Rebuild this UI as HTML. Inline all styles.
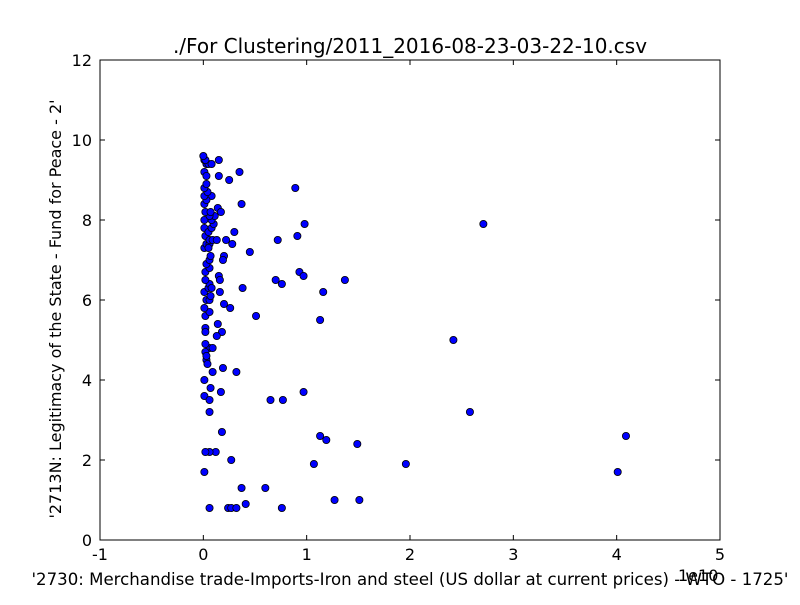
<!DOCTYPE html>
<html><head><meta charset="utf-8"><style>
body{margin:0;background:#fff;width:800px;height:600px;overflow:hidden}
text{font-family:"DejaVu Sans","Liberation Sans",sans-serif;fill:#000}
</style></head><body>
<svg id="chart" width="800" height="600" xmlns="http://www.w3.org/2000/svg">
<rect width="800" height="600" fill="#fff"/>
<g id="points"></g>
<rect x="100" y="60" width="620" height="480" fill="none" stroke="#000" stroke-width="1"/>
<g id="axes"></g>
<text x="410" y="53" font-size="20" text-anchor="middle">./For Clustering/2011_2016-08-23-03-22-10.csv</text>
<text x="410" y="585" font-size="16.6" text-anchor="middle">'2730: Merchandise trade-Imports-Iron and steel (US dollar at current prices) - WTO - 1725'</text>
<text x="678" y="581" font-size="16">1e10</text>
<text transform="translate(61,309) rotate(-90)" font-size="16" text-anchor="middle">'2713N: Legitimacy of the State - Fund for Peace - 2'</text>
</svg>
<script>
const xTicks=[-1,0,1,2,3,4,5];
const yTicks=[0,2,4,6,8,10,12];
const xs=[2.71,2.42,2.58,4.09,4.01,1.96,1.49,1.51,1.27,1.07,1.13,1.19,0.97,1.37,1.16,1.13,0.98,0.91,0.89,0.93,0.97,0.70,0.76,0.72,0.65,0.77,0.60,0.76,0.37,0.41,0.24,0.27,0.32,0.06,0.51,0.38,0.45,0.37,0.35,0.25,0.30,0.28,0.22,0.20,0.19,0.26,0.20,0.18,0.14,0.13,0.32,0.19,0.17,0.18,0.27,0.12,0.06,0.02,0.01,0.01,0.06,0.06,0.07,0.01,0.09,0.06,0.09,0.02,0.03,0.04,0.03,0.02,0.02,0.02,0.02,0.06,0.01,0.03,0.06,0.01,0.05,0.07,0.06,0.02,0.16,0.15,0.16,0.08,0.02,0.06,0.03,0.06,0.07,0.01,0.03,0.06,0.05,0.02,0.06,0.09,0.13,0.01,0.05,0.08,0.10,0.08,0.11,0.01,0.06,0.02,0.07,0.14,0.17,0.08,0.01,0.03,0.01,0.04,0.01,0.03,0.01,0.03,0.01,0.05,0.08,0.15,0.02,0.00,0.15,0.03];
const ys=[7.9,5.0,3.2,2.6,1.7,1.9,2.4,1.0,1.0,1.9,2.6,2.5,3.7,6.5,6.2,5.5,7.9,7.6,8.8,6.7,6.6,6.5,6.4,7.5,3.5,3.5,1.3,0.8,1.3,0.9,0.8,0.8,0.8,0.8,5.6,6.3,7.2,8.4,9.2,9.0,7.7,7.4,7.5,7.1,7.0,5.8,5.9,5.2,5.4,5.1,4.2,4.3,3.7,2.7,2.0,2.2,2.2,2.2,1.7,3.6,3.5,3.2,3.8,4.0,4.2,4.8,4.8,4.7,4.5,4.4,4.6,4.9,5.3,5.2,5.6,5.7,5.8,6.0,6.0,6.2,6.3,6.1,6.4,6.5,6.2,6.6,6.5,6.3,6.7,6.8,6.9,7.0,7.1,7.3,7.4,7.4,7.3,7.6,7.5,7.5,7.5,7.8,7.7,7.8,7.9,8.0,8.1,8.0,8.1,8.2,8.2,8.3,8.2,8.6,8.4,8.5,8.6,8.7,8.8,8.9,9.2,9.4,9.5,9.4,9.4,9.5,9.5,9.6,9.1,9.1];
const X0=100,X1=720,Y0=540,Y1=60;
const sx=v=>X0+(v-(-1))/(5-(-1))*(X1-X0);
const sy=v=>Y0-(v-0)/(12-0)*(Y0-Y1);
const NS="http://www.w3.org/2000/svg";
const pg=document.getElementById('points');
for(let i=0;i<xs.length;i++){
 const c=document.createElementNS(NS,'circle');
 c.setAttribute('cx',sx(xs[i]));c.setAttribute('cy',sy(ys[i]));c.setAttribute('r',3.6);
 c.setAttribute('fill','#0000ff');c.setAttribute('stroke','#000');c.setAttribute('stroke-width','0.8');
 
 
 pg.appendChild(c);
}
const ax=document.getElementById('axes');
function line(x1,y1,x2,y2){const l=document.createElementNS(NS,'line');l.setAttribute('x1',x1);l.setAttribute('y1',y1);l.setAttribute('x2',x2);l.setAttribute('y2',y2);l.setAttribute('stroke','#000');


ax.appendChild(l);}
function txt(x,y,s,anchor){const t=document.createElementNS(NS,'text');t.setAttribute('x',x);t.setAttribute('y',y);t.setAttribute('font-size','16');t.setAttribute('text-anchor',anchor);t.textContent=s;


ax.appendChild(t);}
xTicks.forEach(v=>{const x=sx(v);line(x,Y0,x,Y0-5);line(x,Y1,x,Y1+5);txt(x,Y0+20,String(v),'middle');});
yTicks.forEach(v=>{const y=sy(v);line(X0,y,X0+5,y);line(X1,y,X1-5,y);txt(X0-8,y+6,String(v),'end');});
</script>
</body></html>
